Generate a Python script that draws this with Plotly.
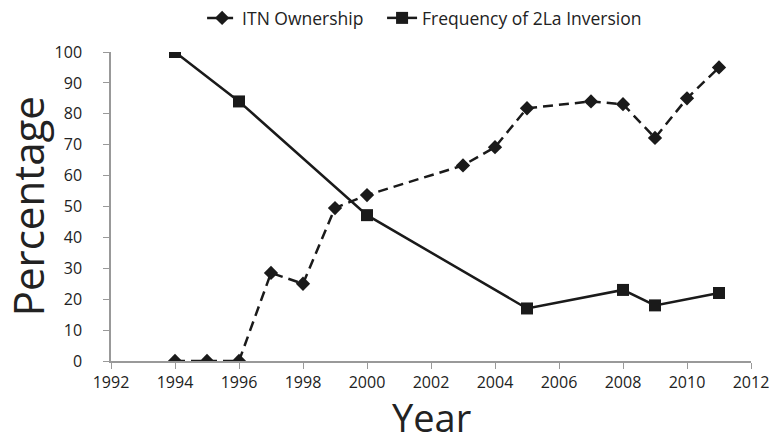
import plotly.graph_objects as go

itn_years = [1994, 1995, 1996, 1997, 1998, 1999, 2000, 2003, 2004, 2005, 2007, 2008, 2009, 2010, 2011]
itn_values = [0, 0, 0, 28.5, 25, 49.5, 53.7, 63.3, 69.2, 81.8, 84, 83.1, 72.2, 85, 95]

inv_years = [1994, 1996, 2000, 2005, 2008, 2009, 2011]
inv_values = [100, 84, 47.2, 17, 23, 18, 22]

FONT = "Open Sans"

fig = go.Figure()
fig.add_trace(go.Scatter(
    x=itn_years, y=itn_values, name="ITN Ownership\u00a0\u00a0\u00a0", mode="lines+markers",
    line=dict(color="#1a1a1a", width=2.5, dash="10px,6px"),
    marker=dict(symbol="diamond", size=11, color="#1a1a1a"),
))
fig.add_trace(go.Scatter(
    x=inv_years, y=inv_values, name="Frequency of 2La Inversion", mode="lines+markers",
    line=dict(color="#1a1a1a", width=2.5),
    marker=dict(symbol="square", size=12, color="#1a1a1a"),
))

fig.update_layout(
    width=769, height=441,
    margin=dict(l=111, r=18, t=52, b=80, autoexpand=False),
    paper_bgcolor="white", plot_bgcolor="white",
    font=dict(family=FONT, color="#222", size=16),
    showlegend=True,
    legend=dict(orientation="h", x=0.49, xanchor="center", y=1.11, yanchor="middle",
                font=dict(size=17.5), tracegroupgap=0),
    xaxis=dict(range=[1992, 2012], dtick=2, tick0=1992, showgrid=False, zeroline=False,
               automargin=False, ticklabeloverflow="allow",
               showline=True, linecolor="#999", linewidth=1.5,
               ticks="outside", ticklen=6, tickcolor="#999", tickfont=dict(size=16)),
    yaxis=dict(range=[0, 100], dtick=10, showgrid=False, zeroline=False,
               automargin=False, ticklabelstandoff=18, ticklabeloverflow="allow",
               showline=True, linecolor="#999", linewidth=1.5,
               ticks="outside", ticklen=6, tickcolor="#999", tickfont=dict(size=16)),
    annotations=[
        dict(text="Year", xref="paper", yref="paper", x=0.5, y=-0.18, xanchor="center",
             yanchor="middle", showarrow=False, font=dict(size=38)),
        dict(text="Percentage", xref="paper", yref="paper", x=-0.13, y=0.5,
             xanchor="center", yanchor="middle", textangle=-90, showarrow=False,
             font=dict(size=42)),
    ],
)

fig.write_html(
    "out.html",
    config={"displayModeBar": False},
    post_script="document.body.style.margin='0';document.body.style.overflow='hidden';",
)
